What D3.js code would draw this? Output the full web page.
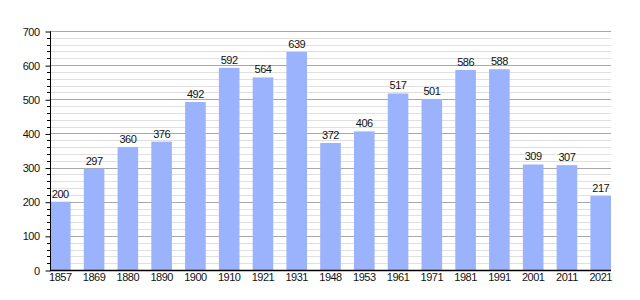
<!DOCTYPE html>
<html>
<head>
<meta charset="utf-8">
<script src="https://cdn.jsdelivr.net/npm/d3@7"></script>
<style>
  body { margin: 0; background: #fff; }
  svg text { font-family: "Liberation Sans", Arial, sans-serif; font-size: 11px; fill: #111; letter-spacing: -0.5px; }
</style>
</head>
<body>
<svg id="chart" width="640" height="300"></svg>
<script>
const years = ["1857", "1869", "1880", "1890", "1900", "1910", "1921", "1931", "1948", "1953", "1961", "1971", "1981", "1991", "2001", "2011", "2021"];
const population = [200, 297, 360, 376, 492, 592, 564, 639, 372, 406, 517, 501, 586, 588, 309, 307, 217];
const majorTicks = [0, 100, 200, 300, 400, 500, 600, 700];

const svg = d3.select("#chart");
const plotLeft = 50, plotRight = 611, plotTop = 31, plotBottom = 270;

const x = d3.scaleBand().domain(years).range([plotLeft, plotRight]).paddingInner(0.39).paddingOuter(0);
const y = d3.scaleLinear().domain([0, 700]).range([plotBottom, plotTop]);

// minor gridlines
const minor = d3.range(0, 701, 20).filter(v => v % 100 !== 0);
svg.append("g").selectAll("line").data(minor).join("line")
  .attr("x1", plotLeft).attr("x2", plotRight)
  .attr("y1", d => Math.round(y(d)) + 0.5).attr("y2", d => Math.round(y(d)) + 0.5)
  .attr("stroke", "#e0e0e0");

// major gridlines
svg.append("g").selectAll("line").data(majorTicks.slice(1)).join("line")
  .attr("x1", plotLeft).attr("x2", plotRight)
  .attr("y1", d => Math.round(y(d)) + 0.5).attr("y2", d => Math.round(y(d)) + 0.5)
  .attr("stroke", "#a8a8a8");

// bars
svg.append("g").selectAll("rect").data(population).join("rect")
  .attr("x", (d, i) => x(years[i]))
  .attr("width", x.bandwidth())
  .attr("y", d => y(d))
  .attr("height", d => y(0) - y(d))
  .attr("fill", "#9bb2fc");

// value labels
svg.append("g").selectAll("text").data(population).join("text")
  .attr("x", (d, i) => x(years[i]) + x.bandwidth() / 2)
  .attr("y", d => y(d) - 4)
  .attr("text-anchor", "middle")
  .text(d => d);

// y axis with minor ticks
svg.append("g").selectAll("line").data(minor).join("line")
  .attr("x1", plotLeft - 3).attr("x2", plotLeft)
  .attr("y1", d => Math.round(y(d)) + 0.5).attr("y2", d => Math.round(y(d)) + 0.5)
  .attr("stroke", "#000");

const yAxis = d3.axisLeft(y).tickValues(majorTicks).tickSize(5).tickPadding(6);
const yg = svg.append("g").attr("transform", `translate(${plotLeft + 0.5},0.5)`).call(yAxis);
yg.select(".domain").attr("d", `M0,${plotTop}V${plotBottom}`);
yg.attr("font-size", null).attr("font-family", null);

// x axis
const xAxis = d3.axisBottom(x).tickSize(0).tickPadding(3);
const xg = svg.append("g").attr("transform", `translate(0,${plotBottom + 0.5})`).call(xAxis);
xg.select(".domain").attr("d", `M${plotLeft},0H${plotRight}`).attr("stroke-width", 1.5);
xg.attr("font-size", null).attr("font-family", null);
</script>
</body>
</html>
